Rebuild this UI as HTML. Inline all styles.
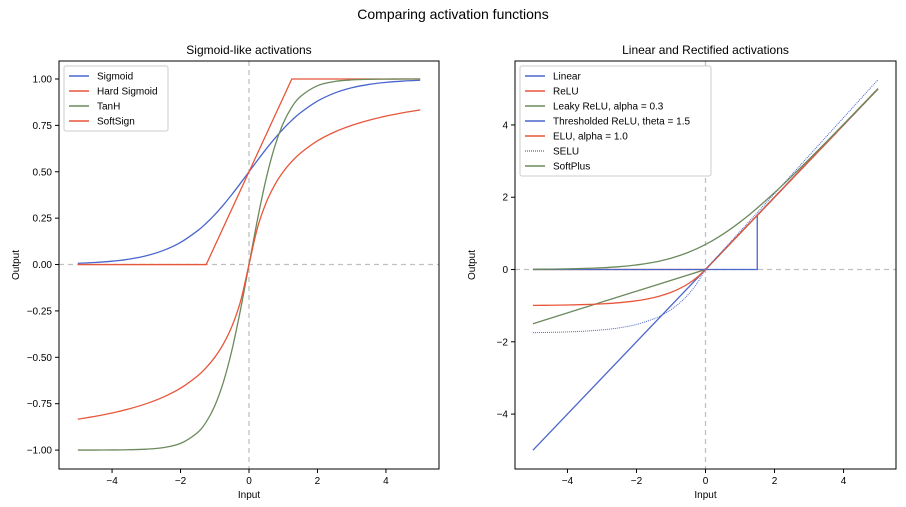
<!DOCTYPE html>
<html><head><meta charset="utf-8">
<style>
body{margin:0;background:#fff;}
svg{display:block;font-family:"Liberation Sans","DejaVu Sans",sans-serif;}
</style></head>
<body>
<svg id="chart" width="906" height="507" viewBox="0 0 906 507">
<text x="453" y="19" text-anchor="middle" font-size="14">Comparing activation functions</text>
<g id="left"></g>
<g id="right"></g>
</svg>
<script>
const xsDense=[-5,-4.5,-4,-3.5,-3,-2.5,-2,-1.5,-1.25,-1,-0.75,-0.5,-0.25,0,0.25,0.5,0.75,1,1.25,1.5,2,2.5,3,3.5,4,4.5,5];
const sigmoidY=[.0067,.0110,.0180,.0293,.0474,.0759,.1192,.1824,.2227,.2689,.3208,.3775,.4378,.5,.5622,.6225,.6792,.7311,.7773,.8176,.8808,.9241,.9526,.9707,.9820,.9890,.9933];
const tanhY=[-.9999,-.9998,-.9993,-.9982,-.9951,-.9866,-.9640,-.9051,-.8483,-.7616,-.6351,-.4621,-.2449,0,.2449,.4621,.6351,.7616,.8483,.9051,.9640,.9866,.9951,.9982,.9993,.9998,.9999];
const softsignY=[-.8333,-.8182,-.8,-.7778,-.75,-.7143,-.6667,-.6,-.5556,-.5,-.4286,-.3333,-.2,0,.2,.3333,.4286,.5,.5556,.6,.6667,.7143,.75,.7778,.8,.8182,.8333];
const hardX=[-5,-1.25,1.25,5];
const hardY=[0,0,1,1];
const linX=[-5,0,5];
const linearY=[-5,0,5];
const reluY=[0,0,5];
const leakyY=[-1.5,0,5];
const threshX=[-5,1.5,1.5,5];
const threshY=[0,0,1.5,5];
const softplusY=[.0067,.0111,.0181,.0298,.0486,.0789,.1269,.2014,.2519,.3133,.3869,.4741,.5759,.6931,.8259,.9741,1.1369,1.3133,1.5019,1.7014,2.1269,2.5789,3.0486,3.5298,4.0181,4.5111,5.0067];
const eluY=[-.9933,-.9889,-.9817,-.9698,-.9502,-.9179,-.8647,-.7769,-.7135,-.6321,-.5276,-.3935,-.2212,0,.25,.5,.75,1,1.25,1.5,2,2.5,3,3.5,4,4.5,5];
const seluY=[-1.7463,-1.7386,-1.7259,-1.7050,-1.6706,-1.6138,-1.5202,-1.3659,-1.2544,-1.1113,-.9276,-.6918,-.3889,0,.2627,.5254,.7880,1.0507,1.3134,1.5761,2.1014,2.6268,3.1521,3.6775,4.2028,4.7282,5.2535];
const leftYTicks=[-1,-0.75,-0.5,-0.25,0,0.25,0.5,0.75,1];
const leftYLabels=["\u22121.00","\u22120.75","\u22120.50","\u22120.25","0.00","0.25","0.50","0.75","1.00"];
const rightYTicks=[-4,-2,0,2,4];
const rightYLabels=["\u22124","\u22122","0","2","4"];
const xTicks=[-4,-2,0,2,4];
const xLabels=["\u22124","\u22122","0","2","4"];

const BLUE="#4a66cc",RED="#e8563a",GREEN="#6b8a5c";
const NS="http://www.w3.org/2000/svg";
function mk(parent,tag,attrs){const e=document.createElementNS(NS,tag);for(const k in attrs)e.setAttribute(k,attrs[k]);parent.appendChild(e);return e;}

function smoothPath(P){
  let d="M"+P[0][0].toFixed(2)+","+P[0][1].toFixed(2);
  for(let i=0;i<P.length-1;i++){
    const p0=P[i-1]||P[i],p1=P[i],p2=P[i+1],p3=P[i+2]||P[i+1];
    const c1=[p1[0]+(p2[0]-p0[0])/6,p1[1]+(p2[1]-p0[1])/6];
    const c2=[p2[0]-(p3[0]-p1[0])/6,p2[1]-(p3[1]-p1[1])/6];
    d+="C"+c1[0].toFixed(2)+","+c1[1].toFixed(2)+" "+c2[0].toFixed(2)+","+c2[1].toFixed(2)+" "+p2[0].toFixed(2)+","+p2[1].toFixed(2);
  }
  return d;
}

function panel(g,box,xd,yd,title,yT,yL,series,legend){
  const sx=v=>box.l+(v-xd[0])/(xd[1]-xd[0])*(box.r-box.l);
  const sy=v=>box.b-(v-yd[0])/(yd[1]-yd[0])*(box.b-box.t);
  let e;
  e=mk(g,"line",{x1:sx(0),x2:sx(0),y1:box.t,y2:box.b,stroke:"#c0c0c0","stroke-dasharray":"5,4","stroke-width":1.3});
  
  
  e=mk(g,"line",{x1:box.l,x2:box.r,y1:sy(0),y2:sy(0),stroke:"#c0c0c0","stroke-dasharray":"5,4","stroke-width":1.3});
  
  
  series.forEach(s=>{
    const P=s.x.map((xv,i)=>[sx(xv),sy(s.y[i])]);
    const d=s.smooth?smoothPath(P):P.map((p,i)=>(i?"L":"M")+p[0].toFixed(2)+","+p[1].toFixed(2)).join("");
    const p=mk(g,"path",{d:d,fill:"none",stroke:s.c,"stroke-width":s.w||1.3});
    if(s.dash)p.setAttribute("stroke-dasharray",s.dash);
    
    
  });
  e=mk(g,"rect",{x:box.l,y:box.t,width:box.r-box.l,height:box.b-box.t,fill:"none",stroke:"#000","stroke-width":1});
  
  
  yT.forEach((v,i)=>{
    mk(g,"line",{x1:box.l-4,x2:box.l,y1:sy(v),y2:sy(v),stroke:"#000"});
    const t=mk(g,"text",{x:box.l-7,y:sy(v)+3.5,"text-anchor":"end","font-size":10});
    t.textContent=yL[i];
    
    
  });
  xTicks.forEach((v,i)=>{
    mk(g,"line",{x1:sx(v),x2:sx(v),y1:box.b,y2:box.b+4,stroke:"#000"});
    const t=mk(g,"text",{x:sx(v),y:box.b+15,"text-anchor":"middle","font-size":10});
    t.textContent=xLabels[i];
    
    
  });
  let t=mk(g,"text",{x:(box.l+box.r)/2,y:box.t-7,"text-anchor":"middle","font-size":12});
  t.textContent=title;
  
  
  t=mk(g,"text",{x:(box.l+box.r)/2,y:box.b+29,"text-anchor":"middle","font-size":10});
  t.textContent="Input";
  
  
  const cy=(box.t+box.b)/2;
  t=mk(g,"text",{x:box.l-40,y:cy,"text-anchor":"middle","font-size":10,transform:`rotate(-90 ${box.l-40} ${cy})`});
  t.textContent="Output";
  
  
  const lg=mk(g,"g",{});
  
  
  mk(lg,"rect",{x:box.l+5,y:box.t+5,width:legend.w,height:legend.items.length*15+5,fill:"#fff",stroke:"#ccc",rx:2});
  legend.items.forEach((it,i)=>{
    const y=box.t+15+i*15;
    const l=mk(lg,"line",{x1:box.l+10,x2:box.l+30,y1:y,y2:y,stroke:it.c,"stroke-width":it.w||1.6});
    if(it.dash)l.setAttribute("stroke-dasharray",it.dash);
    const tx=mk(lg,"text",{x:box.l+38,y:y+3.5,"font-size":10});
    tx.textContent=it.n;
    
    
  });
}

panel(document.getElementById("left"),{l:59,r:439,t:61,b:469},[-5.55,5.55],[-1.102,1.097],"Sigmoid-like activations",leftYTicks,leftYLabels,
 [{name:"sigmoid",x:xsDense,y:sigmoidY,c:BLUE,smooth:true},{name:"hard-sigmoid",x:hardX,y:hardY,c:RED},{name:"tanh",x:xsDense,y:tanhY,c:GREEN,smooth:true},{name:"softsign",x:xsDense,y:softsignY,c:RED,smooth:true}],
 {w:104,items:[{n:"Sigmoid",c:BLUE},{n:"Hard Sigmoid",c:RED},{n:"TanH",c:GREEN},{n:"SoftSign",c:RED}]});

panel(document.getElementById("right"),{l:515,r:896,t:61,b:469},[-5.52,5.52],[-5.52,5.77],"Linear and Rectified activations",rightYTicks,rightYLabels,
 [{name:"linear",x:linX,y:linearY,c:BLUE},{name:"relu",x:linX,y:reluY,c:RED},{name:"leaky-relu",x:linX,y:leakyY,c:GREEN},
  {name:"thresholded-relu",x:threshX,y:threshY,c:BLUE},{name:"elu",x:xsDense,y:eluY,c:RED,smooth:true},
  {name:"selu",x:xsDense,y:seluY,c:BLUE,w:1,dash:"1,1",smooth:true},{name:"softplus",x:xsDense,y:softplusY,c:GREEN,smooth:true}],
 {w:191,items:[{n:"Linear",c:BLUE},{n:"ReLU",c:RED},{n:"Leaky ReLU, alpha = 0.3",c:GREEN},{n:"Thresholded ReLU, theta = 1.5",c:BLUE},{n:"ELU, alpha = 1.0",c:RED},{n:"SELU",c:BLUE,w:1.2,dash:"1,1"},{n:"SoftPlus",c:GREEN}]});
</script>
</body></html>
